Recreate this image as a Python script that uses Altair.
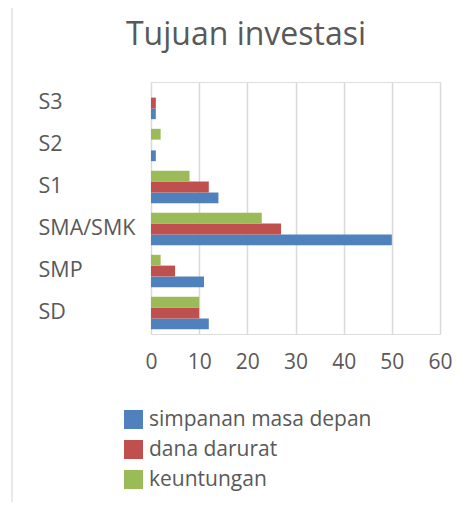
import altair as alt
import pandas as pd

categories = ["S3", "S2", "S1", "SMA/SMK", "SMP", "SD"]
series = ["simpanan masa depan", "dana darurat", "keuntungan"]
simpanan = [1, 1, 14, 50, 11, 12]
dana = [1, 0, 12, 27, 5, 10]
keuntungan = [0, 2, 8, 23, 2, 10]
colors = ["#4F81BD", "#C0504D", "#9BBB59"]
x_ticks = [0, 10, 20, 30, 40, 50, 60]
title_text = "Tujuan investasi"

rows = []
for i, c in enumerate(categories):
    for s, vals in zip(series, [simpanan, dana, keuntungan]):
        rows.append({"kategori": c, "seri": s, "nilai": vals[i]})
df = pd.DataFrame(rows)

FONT = "Open Sans"
GREY = "#595959"

bars = alt.Chart(df).mark_bar().encode(
    y=alt.Y("kategori:N", sort=categories,
            scale=alt.Scale(paddingInner=0.23, paddingOuter=0.115),
            axis=alt.Axis(title=None, domain=False, ticks=False, tickSize=0, grid=False,
                          labelAlign="left", labelPadding=113, labelFontSize=21.5,
                          labelColor=GREY, labelFont=FONT, labelBaseline="middle")),
    x=alt.X("nilai:Q", scale=alt.Scale(domain=[0, 60], nice=False),
            axis=alt.Axis(title=None, values=x_ticks, domain=False, ticks=False, tickSize=0,
                          grid=True, gridColor="#d9d9d9", gridWidth=1.5,
                          labelFontSize=21, labelColor=GREY, labelFont=FONT,
                          labelPadding=17, labelFlush=False, labelOverlap=False)),
    yOffset=alt.YOffset("seri:N", sort=["keuntungan", "dana darurat", "simpanan masa depan"]),
    color=alt.Color("seri:N", sort=series,
                    scale=alt.Scale(domain=series, range=colors),
                    legend=alt.Legend(title=None, orient="none", legendX=-28, legendY=327,
                                      symbolType="square", symbolSize=361,
                                      symbolStrokeWidth=0, labelFontSize=21,
                                      labelColor=GREY, labelFont=FONT, labelOffset=5,
                                      labelLimit=400, rowPadding=8, padding=0)),
)

one = alt.Data(values=[{"t": title_text}])

title = alt.Chart(one).mark_text(
    fontSize=32, font=FONT, color=GREY, align="center", baseline="alphabetic"
).encode(text="t:N", x=alt.value(95), y=alt.value(-37))

frame_left = alt.Chart(one).mark_rule(color="#d9d9d9", strokeWidth=1.2).encode(
    x=alt.value(-139), y=alt.value(-75), y2=alt.value(430))
frame_top = alt.Chart(one).mark_rule(color="#d9d9d9", strokeWidth=1.2).encode(
    x=alt.value(-139), x2=alt.value(330), y=alt.value(-75))

chart = alt.layer(frame_left, frame_top, bars, title).properties(
    width=289, height=252,
    autosize=alt.AutoSizeParams(type="none"),
    padding={"left": 143, "top": 74, "right": 23, "bottom": 168},
).configure_view(stroke=None).configure(background="white")

chart.save("out.html", embed_options={"renderer": "svg", "actions": False})
